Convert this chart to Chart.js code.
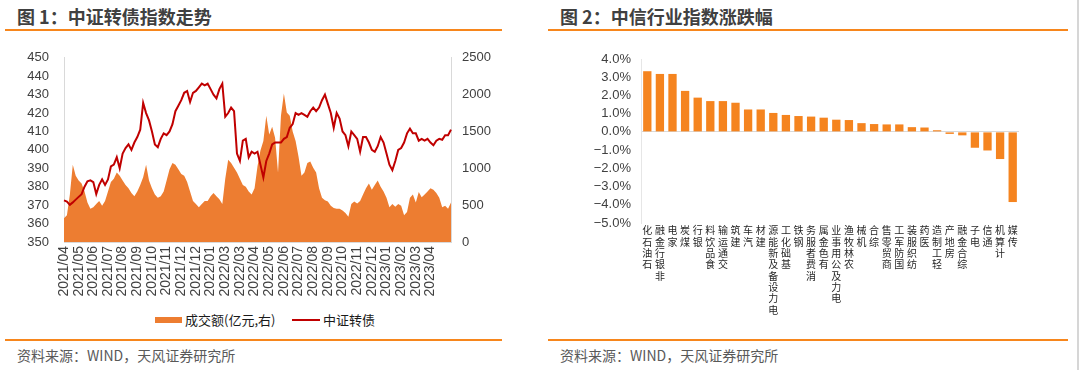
<!DOCTYPE html>
<html>
<head>
<meta charset="utf-8">
<script src="https://cdn.jsdelivr.net/npm/chart.js@4.4.0/dist/chart.umd.min.js"></script>
<style>
body { margin:0; width:1080px; height:370px; background:#fff; overflow:hidden; position:relative; font-family:'Liberation Sans','Noto Sans CJK SC',sans-serif; }
.title { position:absolute; top:3px; font-size:18px; font-weight:bold; color:#404040; line-height:26px; font-family:'Noto Sans CJK SC',sans-serif; white-space:nowrap; }
.rule { position:absolute; height:2px; background:#F7861C; }
.source { position:absolute; top:345px; font-size:14px; color:#595959; line-height:20px; font-family:'Noto Sans CJK SC',sans-serif; white-space:nowrap; }
.box { position:absolute; }
.legtext { position:absolute; top:310px; font-size:13px; line-height:20px; color:#1a1a1a; font-family:'Noto Sans CJK SC',sans-serif; white-space:nowrap; }
</style>
</head>
<body>
<div class="title" style="left:17px">图 1：中证转债指数走势</div>
<div class="rule" style="left:5px; width:497px; top:29px"></div>
<div class="box" style="left:0; top:35px; width:505px; height:270px"><canvas id="c1" width="505" height="270"></canvas></div>
<div class="box" style="left:155px; top:317px; width:27px; height:6px; background:#ED7D31"></div>
<div class="legtext" style="left:185px">成交额(亿元,右)</div>
<div class="box" style="left:292px; top:319px; width:28px; height:2px; background:#C00000"></div>
<div class="legtext" style="left:323px">中证转债</div>
<div class="rule" style="left:5px; width:497px; top:339px"></div>
<div class="source" style="left:17px">资料来源：WIND，天风证券研究所</div>

<div class="title" style="left:560px">图 2：中信行业指数涨跌幅</div>
<div class="rule" style="left:548px; width:520px; top:29px"></div>
<div class="box" style="left:545px; top:40px; width:520px; height:290px"><canvas id="c2" width="520" height="290"></canvas></div>
<div class="rule" style="left:548px; width:520px; top:339px"></div>
<div class="source" style="left:560px">资料来源：WIND，天风证券研究所</div>
<div class="box" style="left:1077px; top:0; width:2px; height:370px; background:#d6d6d6"></div>

<script>
// Figure 1: tick labels (one every 5 points) and the two series
const dateTicks = ['2021/04','2021/05','2021/06','2021/07','2021/08','2021/09','2021/10','2021/11','2021/12','2021/12',
  '2022/01','2022/03','2022/03','2022/04','2022/05','2022/06','2022/07','2022/08','2022/09','2022/10',
  '2022/11','2022/12','2023/01','2023/02','2023/03','2023/04'];
const pointsPerTick = 5;

// 中证转债 index (left axis)
const cbIndex = [372.6,372,370.2,371.5,373,374.5,376,380,383,383.5,
  382.5,376,381,384,381,384,391,392,396,390,
  398,401,403,400,404,407,411,425.5,420,416,
  410,403,401.5,406,409,408,410,414,421,424,
  427,431,432,426,431,432,434,436,435,436,
  433,430,428,433,436,418,420,423,421,398,
  394,405,406,396,399,398,399,392,385,394,
  398,403,404,404,404,406,407,412,414,420,
  419,420,419,418,421,423,421,423,427,430,
  425,420,412,420,417,410,408,402,410,408,
  406,399,407,407,404,400,399,402,407,404,
  398,392,389,394,400,401,404,409,411.5,409,
  409,405,406,405,406,404,402.5,405,406,405.5,
  408,408,411];

// 成交额 (亿元, right axis)
const volume = [322,364,643,1050,900,836,793,686,536,450,
  471,515,557,493,557,686,815,857,943,900,
  836,772,729,665,621,686,772,879,1050,836,
  729,643,600,621,686,836,986,1072,1050,986,
  922,900,815,686,557,515,471,515,557,557,
  621,665,621,579,515,857,1115,1072,1008,943,
  857,772,750,686,643,729,1029,1243,1372,1715,
  1458,1565,1415,943,1715,2015,1758,1715,1500,1372,
  1158,900,943,1072,1093,1008,943,729,600,566,
  549,493,463,450,450,429,395,343,515,549,
  523,557,643,729,793,708,772,836,750,686,
  600,471,515,480,515,493,364,407,600,643,
  536,678,609,643,686,729,708,665,600,471,
  493,450,536];

// Figure 2: CITIC industries and their % change
const industries = ['石油石化','非银行金融','家电','煤炭','银行','食品饮料','交通运输','建筑','汽车','建材',
  '电力设备及新能源','基础化工','钢铁','消费者服务','有色金属','电力及公用事业','农林牧渔','机械','综合','商贸零售',
  '国防军工','纺织服装','医药','轻工制造','房地产','综合金融','电子','通信','计算机','传媒'];
const changes = [3.33,3.18,3.18,2.25,1.88,1.69,1.69,1.60,1.23,1.23,
  1.04,0.93,0.87,0.84,0.78,0.67,0.65,0.48,0.43,0.41,
  0.41,0.26,0.24,0.09,-0.11,-0.19,-0.87,-1.02,-1.49,-3.85];

const latinFont = "'Liberation Sans', 'Noto Sans CJK SC', sans-serif";
const cjkFont = "'Noto Sans CJK SC', sans-serif";
Chart.defaults.font.family = latinFont;
Chart.defaults.animation = false;

// category labels: only every 5th point gets a date
const dayLabels = cbIndex.map((v, i) => i % pointsPerTick === 0 ? (dateTicks[i / pointsPerTick] || '') : '');

new Chart(document.getElementById('c1'), {
  data: {
    labels: dayLabels,
    datasets: [
      {
        type: 'line',
        label: '中证转债',
        data: cbIndex,
        yAxisID: 'y',
        borderColor: '#C00000',
        borderWidth: 2,
        pointRadius: 0,
        tension: 0,
        order: 0
      },
      {
        type: 'line',
        label: '成交额(亿元,右)',
        data: volume,
        yAxisID: 'y1',
        borderWidth: 0,
        backgroundColor: '#ED7D31',
        fill: 'origin',
        pointRadius: 0,
        tension: 0,
        order: 1
      }
    ]
  },
  options: {
    responsive: false,
    layout: { padding: { top: 12, left: 0, right: 0, bottom: 0 } },
    plugins: { legend: { display: false }, tooltip: { enabled: false } },
    scales: {
      x: {
        grid: { display: false, drawTicks: false },
        border: { display: true, color: '#d9d9d9' },
        ticks: { autoSkip: false, minRotation: 90, maxRotation: 90, padding: 4, color: '#404040', font: { size: 14 } },
        afterFit: s => { s.height = 63; }
      },
      y: {
        position: 'left',
        min: 350, max: 450,
        grid: { display: false, drawTicks: false },
        border: { display: true, color: '#d9d9d9' },
        ticks: { stepSize: 10, autoSkip: false, padding: 15, color: '#404040', font: { size: 13 },
                 callback: v => String(v) },
        afterFit: s => { s.width = 64; }
      },
      y1: {
        position: 'right',
        min: 0, max: 2500,
        grid: { display: false, drawTicks: false },
        border: { display: true, color: '#d9d9d9' },
        ticks: { stepSize: 500, autoSkip: false, padding: 11, color: '#404040', font: { size: 13 },
                 callback: v => String(v) },
        afterFit: s => { s.width = 54; }
      }
    }
  }
});

// stacked upright characters, reading bottom to top
const verticalLabels = industries.map(n => Array.from(n).reverse());

new Chart(document.getElementById('c2'), {
  type: 'bar',
  data: {
    labels: verticalLabels,
    datasets: [{
      label: '涨跌幅',
      data: changes,
      backgroundColor: '#F5841F',
      barPercentage: 0.66,
      categoryPercentage: 1
    }]
  },
  options: {
    responsive: false,
    layout: { padding: { top: 19, left: 0, right: 46, bottom: 0 } },
    plugins: { legend: { display: false }, tooltip: { enabled: false } },
    scales: {
      x: {
        grid: { display: false, drawTicks: false },
        border: { display: false },
        ticks: { autoSkip: false, maxRotation: 0, minRotation: 0, padding: 2, color: '#262626',
                 font: { family: cjkFont, size: 10, lineHeight: 1.13 } },
        afterFit: s => { s.height = 107; }
      },
      y: {
        min: -5, max: 4,
        grid: {
          drawTicks: false,
          color: ctx => ctx.tick && ctx.tick.value === 0 ? '#d9d9d9' : 'rgba(0,0,0,0)'
        },
        border: { display: true, color: '#e6e6e6' },
        ticks: {
          stepSize: 1, autoSkip: false, padding: 10, color: '#404040', font: { size: 13 },
          callback: v => (v < 0 ? '\u2212' : '') + Math.abs(v).toFixed(1) + '%'
        },
        afterFit: s => { s.width = 96; }
      }
    }
  }
});
</script>
</body>
</html>
